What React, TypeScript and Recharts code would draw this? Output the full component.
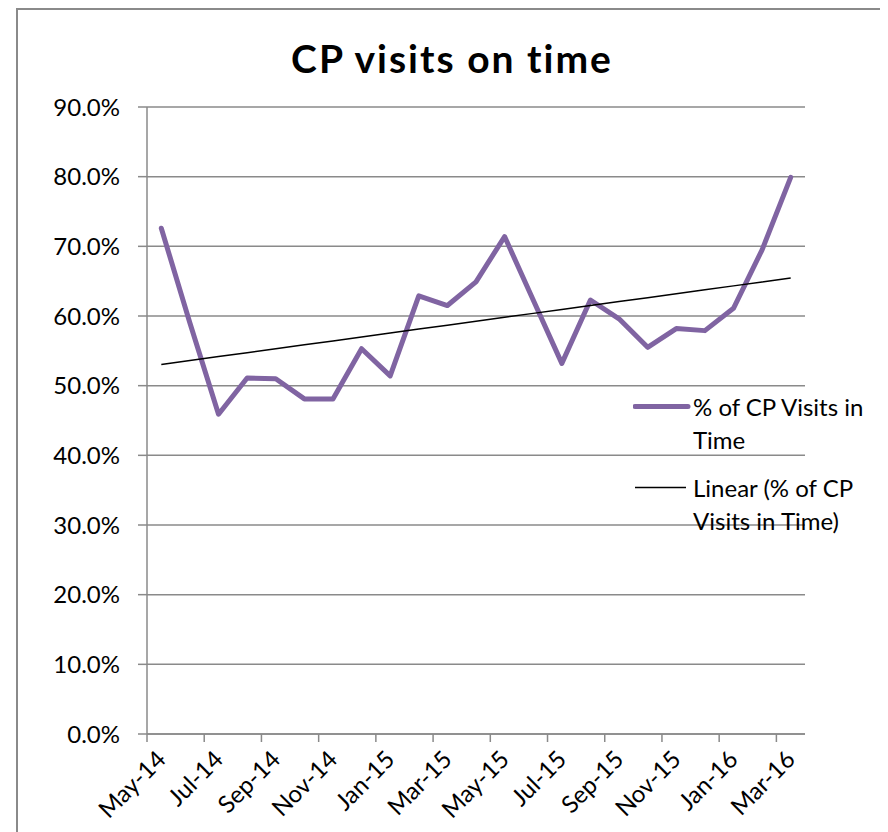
import React from 'react';
import { LineChart, Line, XAxis, YAxis, CartesianGrid, Legend, Customized } from 'recharts';

const months = ['May-14', 'Jun-14', 'Jul-14', 'Aug-14', 'Sep-14', 'Oct-14', 'Nov-14', 'Dec-14', 'Jan-15', 'Feb-15', 'Mar-15', 'Apr-15', 'May-15', 'Jun-15', 'Jul-15', 'Aug-15', 'Sep-15', 'Oct-15', 'Nov-15', 'Dec-15', 'Jan-16', 'Feb-16', 'Mar-16'];
const onTimePct = [72.6, 59.0, 45.9, 51.1, 51.0, 48.1, 48.1, 55.3, 51.4, 62.9, 61.5, 64.9, 71.4, 62.3, 53.2, 62.3, 59.6, 55.5, 58.2, 57.9, 61.1, 69.5, 79.9];
const yTicks = [0, 10, 20, 30, 40, 50, 60, 70, 80, 90];

const seriesName = '% of CP Visits in Time';
const trendName = 'Linear (% of CP Visits in Time)';
const titleText = 'CP visits on time';

// least-squares trendline (what Excel's "Linear" trendline does)
const n = onTimePct.length;
const meanX = (n - 1) / 2;
const meanY = onTimePct.reduce((a, b) => a + b, 0) / n;
let sxy = 0, sxx = 0;
onTimePct.forEach((v, i) => { sxy += (i - meanX) * (v - meanY); sxx += (i - meanX) * (i - meanX); });
const slope = sxy / sxx;
const intercept = meanY - slope * meanX;

const data = months.map((m, i) => ({ month: m, pct: onTimePct[i], trend: intercept + slope * i }));

const FONT = 'Lato, "Noto Sans", sans-serif';
const PURPLE = '#8064A2';
const GRID = '#8a8a8a';
const FS = 24;

const W = 880;
const H = 824;
const M = { top: 99, right: 83, bottom: 38, left: 79 };
const Y_W = 60;
const PLOT_W = W - M.left - M.right - Y_W;
const HALF_BAND = PLOT_W / months.length / 2;

const XTick = (props: any) => {
  const { x, y, payload } = props;
  const tx = x + 6;
  const ty = y + 27;
  return (
    <g>
      <line x1={x - HALF_BAND} x2={x - HALF_BAND} y1={y} y2={y + 8} stroke={GRID} strokeWidth={1.5} />
      <text x={tx} y={ty} transform={`rotate(-45 ${tx} ${ty})`} textAnchor="end" fontFamily={FONT} fontSize={FS} fill="#000">
        {payload.value}
      </text>
    </g>
  );
};

const LegendContent = () => (
  <div style={{ fontFamily: FONT, fontSize: FS, color: '#000', lineHeight: '33px', textAlign: 'left' }}>
    <div style={{ display: 'flex', alignItems: 'flex-start' }}>
      <svg width={60} height={33} style={{ flex: 'none' }}>
        <line x1={2} x2={55} y1={16.5} y2={16.5} stroke={PURPLE} strokeWidth={5} strokeLinecap="round" />
      </svg>
      <div style={{ whiteSpace: 'nowrap' }}>% of CP Visits in<br />Time</div>
    </div>
    <div style={{ display: 'flex', alignItems: 'flex-start', marginTop: 15 }}>
      <svg width={60} height={33} style={{ flex: 'none' }}>
        <line x1={2} x2={53} y1={16.5} y2={16.5} stroke="#000" strokeWidth={1.5} />
      </svg>
      <div style={{ whiteSpace: 'nowrap' }}>Linear (% of CP<br />Visits in Time)</div>
    </div>
  </div>
);

const Title = () => (
  <text x={444} y={65} textAnchor="middle" fontFamily={FONT} fontWeight={700} fontSize={39} letterSpacing={2} fill="#000">
    {titleText}
  </text>
);

export default function App() {
  return (
    <div style={{ position: 'relative', width: W, height: H, background: '#fff' }}>
      <div style={{ position: 'absolute', left: 8, top: 0, right: 0, bottom: 0, borderTop: `2px solid ${GRID}`, borderLeft: `2px solid ${GRID}`, pointerEvents: 'none' }} />
      <div style={{ position: 'absolute', left: 0, top: 0 }}>
        <LineChart width={W} height={H} data={data} margin={M}>
          <CartesianGrid vertical={false} stroke={GRID} strokeWidth={1.5} />
          <XAxis
            dataKey="month"
            interval={1}
            padding={{ left: HALF_BAND, right: HALF_BAND }}
            tick={<XTick />}
            tickLine={false}
            tickSize={0}
            tickMargin={0}
            height={60}
            axisLine={{ stroke: GRID, strokeWidth: 1.5 }}
          />
          <YAxis
            domain={[0, 90]}
            ticks={yTicks}
            width={Y_W}
            tickSize={9}
            tickMargin={18}
            tickLine={{ stroke: GRID, strokeWidth: 1.5 }}
            axisLine={{ stroke: GRID, strokeWidth: 1.5 }}
            tickFormatter={(v: number) => `${v.toFixed(1)}%`}
            tick={{ fontFamily: FONT, fontSize: FS, fill: '#000' }}
          />
          <Line name={seriesName} type="linear" dataKey="pct" stroke={PURPLE} strokeWidth={5} dot={false} strokeLinejoin="round" strokeLinecap="round" isAnimationActive={false} />
          <Line name={trendName} type="linear" dataKey="trend" stroke="#000" strokeWidth={1.5} dot={false} isAnimationActive={false} />
          <Legend content={<LegendContent />} layout="vertical" verticalAlign="middle" align="center" wrapperStyle={{ left: 625, top: 382, width: 260 }} />
          <Customized component={Title} />
        </LineChart>
      </div>
    </div>
  );
}
